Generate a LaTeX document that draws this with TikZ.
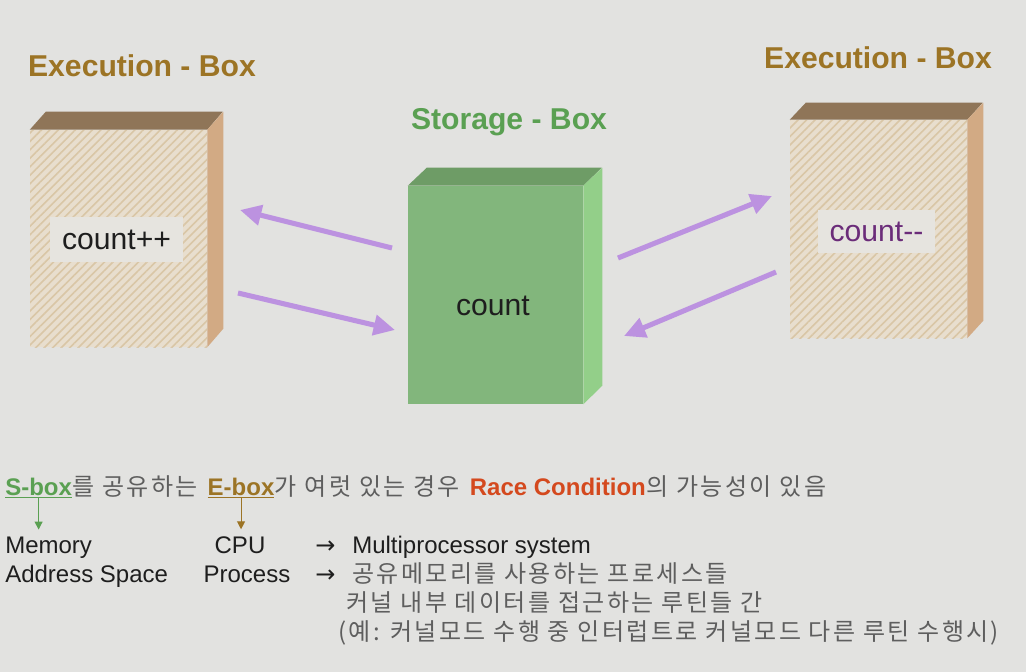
\documentclass[tikz,border=0pt]{standalone}
\usepackage{fontspec}
\setmainfont{Liberation Sans}
\newfontfamily\kr[LetterSpace=10]{Noto Sans CJK KR}
\newfontfamily\sym{DejaVu Sans}
\usetikzlibrary{arrows.meta,patterns.meta,positioning}

\definecolor{bgcol}{HTML}{E2E2E0}
\definecolor{eface}{HTML}{E8DECE}
\definecolor{estripe}{HTML}{D9C6A6}
\definecolor{etop}{HTML}{8F7558}
\definecolor{eside}{HTML}{D2AA84}
\definecolor{sface}{HTML}{82B67C}
\definecolor{stop}{HTML}{6E9C66}
\definecolor{sside}{HTML}{93CF89}
\definecolor{patch}{HTML}{E6E4DF}
\definecolor{gold}{HTML}{9C7425}
\definecolor{sgreen}{HTML}{5AA052}
\definecolor{lav}{HTML}{BC92E0}
\definecolor{racered}{HTML}{D4491E}
\definecolor{krgray}{HTML}{5E5E5E}
\definecolor{ink}{HTML}{1E1E1E}
\definecolor{minus}{HTML}{6B2C79}

\tikzset{
  pxbox/.style 2 args={minimum width=#1*0.75pt, minimum height=#2*0.75pt, inner sep=0pt},
  title/.style={font=\fontsize{22.6}{27}\selectfont\bfseries},
  boxtext/.style={font=\fontsize{22.6}{27}\selectfont, text=ink},
  efront/.style={fill=eface, postaction={pattern={Lines[angle=45,distance=4.5pt,line width=1.2pt]}, pattern color=estripe}},
  sfront/.style={fill=sface},
  flow/.style={draw=lav, line width=3.8pt, -{Triangle[length=16pt,width=15pt]}},
  line/.style={font=\fontsize{18}{22}\selectfont, inner sep=0pt, anchor=base west, text=ink},
  bline/.style={line, font=\fontsize{18}{22}\selectfont\bfseries},
  krline/.style={line, text=krgray},
  down/.style={line width=0.8pt, -{Triangle[length=6pt,width=6pt]}, shorten >=5pt}
}

\begin{document}
\begin{tikzpicture}[x=0.75pt,y=-0.75pt]
  \fill[bgcol] (0,0) rectangle (1026,672);
  \useasboundingbox (0,0) rectangle (1026,672);

  % titles
  \node[title, text=gold] (tleft) at (142,66) {Execution - Box};
  \node[title, text=sgreen] (tmid) at (509,122) {Storage - Box};
  \node[title, text=gold] (tright) at (878,58) {Execution - Box};

  % left execution box
  \node[efront, pxbox={177}{217}] (eleft) at (118.5,238.5) {};
  \fill[etop] (eleft.north west) -- ++(16,-18) -- ++(177,0) -- (eleft.north east) -- cycle;
  \fill[eside] (eleft.north east) -- ++(16,-18) -- ++(0,217) -- (eleft.south east) -- cycle;
  \node[boxtext, fill=patch, pxbox={133}{45}] (cinc) at (116.5,239.5) {count++};

  % storage box
  \node[sfront, pxbox={175}{218}] (store) at (495.5,295) {};
  \fill[stop] (store.north west) -- ++(19,-18) -- ++(175,0) -- (store.north east) -- cycle;
  \fill[sside] (store.north east) -- ++(19,-18) -- ++(0,218) -- (store.south east) -- cycle;
  \node[boxtext] (cnt) at (493,306) {count};

  % right execution box
  \node[efront, pxbox={177}{218}] (eright) at (878.5,229) {};
  \fill[etop] (eright.north west) -- ++(16,-17) -- ++(177,0) -- (eright.north east) -- cycle;
  \fill[eside] (eright.north east) -- ++(16,-17) -- ++(0,218) -- (eright.south east) -- cycle;
  \node[boxtext, fill=patch, pxbox={117}{43}, text=minus] (cdec) at (876.5,231.5) {count-{}-};

  % arrows between boxes
  \coordinate (a1s) at (392,248);
  \coordinate (a1e) at (240,210);
  \coordinate (a2s) at (238,293);
  \coordinate (a2e) at (395,330);
  \coordinate (a3s) at (618,258);
  \coordinate (a3e) at (772,196);
  \coordinate (a4s) at (776,272);
  \coordinate (a4e) at (624,336);
  \draw[flow] (a1s) -- (a1e);
  \draw[flow] (a2s) -- (a2e);
  \draw[flow] (a3s) -- (a3e);
  \draw[flow] (a4s) -- (a4e);

  % first text line
  \node[bline, text=sgreen] (sbx) at (5,495) {\underline{S-box}};
  \node[krline] (l1a) at (sbx.base east) {\kr 를 공유하는};
  \node[bline, text=gold] (ebx) at ([xshift=7pt]l1a.base east) {\underline{E-box}};
  \node[krline] (l1b) at (ebx.base east) {\kr 가 여럿 있는 경우};
  \node[bline, text=racered] (race) at ([xshift=7pt]l1b.base east) {Race Condition};
  \node[krline] (l1c) at (race.base east) {\kr 의 가능성이 있음};

  % lower lines
  \node[line] (mem) at (5,553) {Memory};
  \node[line, anchor=base] (cpu) at (240,553) {CPU};
  \node[line] (ar1) at (315,553) {\sym →};
  \node[line] (multi) at (352,553) {Multiprocessor system};
  \node[line] (addr) at (5,582) {Address Space};
  \node[line, anchor=base] (proc) at (247,582) {Process};
  \node[line] (ar2) at (315,582) {\sym →};
  \node[krline] (shm) at (352,582) {\kr 공유메모리를 사용하는 프로세스들};
  \node[krline] (kern) at (346,611) {\kr 커널 내부 데이터를 접근하는 루틴들 간};
  \node[krline] (ex) at (338,640) {\kr (예: 커널모드 수행 중 인터럽트로 커널모드 다른 루틴 수행시)};

  \draw[down, sgreen] (sbx.south) -- (sbx.south |- mem.north);
  \draw[down, gold] (ebx.south) -- (ebx.south |- cpu.north);
\end{tikzpicture}
\end{document}
